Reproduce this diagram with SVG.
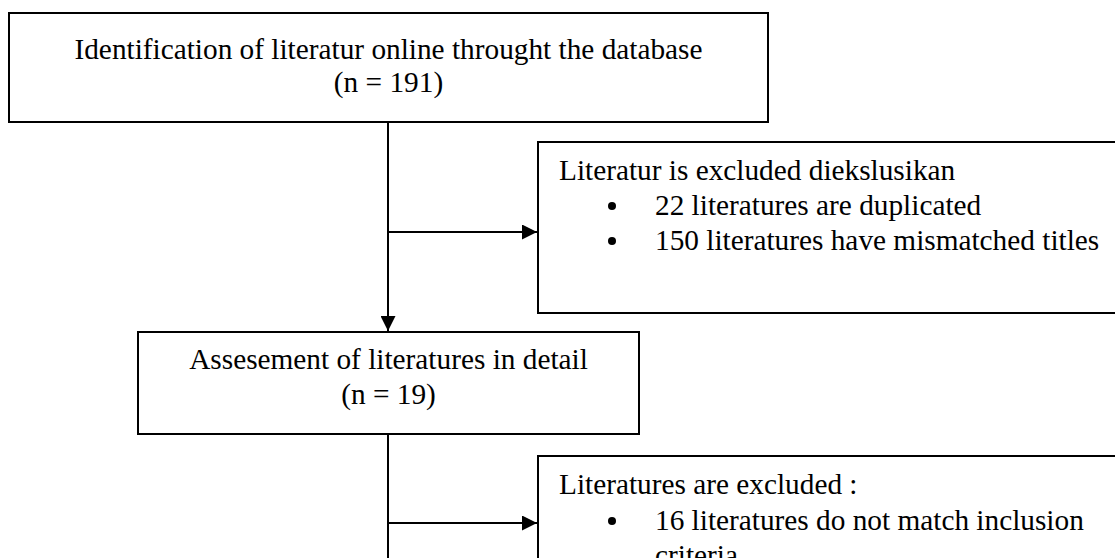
<svg xmlns="http://www.w3.org/2000/svg" width="1115" height="558" viewBox="0 0 1115 558">
<style>
.box{fill:#fff;stroke:#000;stroke-width:2}
.t{font-family:"Liberation Serif","Times New Roman",serif;font-size:29.3px;fill:#000}
.c{text-anchor:middle}
.ln{stroke:#000;stroke-width:2;fill:none}
</style>
<defs>
<marker id="ah" markerWidth="15" markerHeight="15" refX="15" refY="7.5" orient="auto" markerUnits="userSpaceOnUse">
<path d="M0,0 L15,7.5 L0,15 Z" fill="#000"/>
</marker>
</defs>
<rect width="1115" height="558" fill="#fff"/>
<g id="connectors">
<line class="ln" x1="388" y1="122" x2="388" y2="331" marker-end="url(#ah)"/>
<line class="ln" x1="388" y1="232" x2="537" y2="232" marker-end="url(#ah)"/>
<line class="ln" x1="388" y1="434" x2="388" y2="560"/>
<line class="ln" x1="388" y1="523" x2="537" y2="523" marker-end="url(#ah)"/>
</g>
<g id="identification">
<rect class="box" x="9" y="13" width="759" height="109"/>
<text class="t c" x="388.5" y="59">Identification of literatur online throught the database</text>
<text class="t c" x="388.5" y="92">(n = 191)</text>
</g>
<g id="excluded1">
<rect class="box" x="538" y="142" width="590" height="171"/>
<text class="t" x="559" y="180">Literatur is excluded diekslusikan</text>
<circle cx="612" cy="206" r="4"/>
<text class="t" x="655" y="215">22 literatures are duplicated</text>
<circle cx="612" cy="241" r="4"/>
<text class="t" x="655" y="250">150 literatures have mismatched titles</text>
</g>
<g id="assessment">
<rect class="box" x="138" y="332" width="501" height="102"/>
<text class="t c" x="388.5" y="369">Assesement of literatures in detail</text>
<text class="t c" x="388.5" y="404">(n = 19)</text>
</g>
<g id="excluded2">
<rect class="box" x="538" y="456" width="590" height="140"/>
<text class="t" x="559" y="494">Literatures are excluded :</text>
<circle cx="612" cy="521" r="4"/>
<text class="t" x="655" y="530">16 literatures do not match inclusion</text>
<text class="t" x="655" y="565">criteria</text>
</g>
</svg>
